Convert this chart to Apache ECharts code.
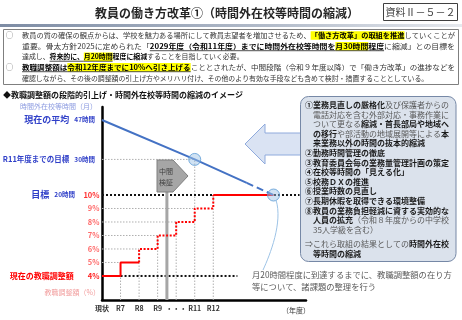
<!DOCTYPE html>
<html><head><meta charset="utf-8">
<script src="https://cdn.jsdelivr.net/npm/echarts@6/dist/echarts.min.js"></script>
<style>html,body{margin:0;padding:0;background:#fff}#c{width:462px;height:320px}</style>
</head><body><div id="c"></div>
<script>
const FONT = '"Noto Sans CJK JP", "Noto Sans", sans-serif';

// ---- data ----
const yearLabels = ['現状', 'R7', 'R8', 'R9', '・・・', 'R11', 'R12'];
const adjustmentRates = [4, 5, 6, 7, 8, 9, 10];          // 教職調整額 (%)
const enactedSteps = 2;                                   // 現状, R7 : decided (solid)
const hourLabels = ['現在の平均', 'R11年度までの目標', '目標'];
const hourValues = [47, 30, 20];                          // 時間外在校等時間（月）
const hourYearPos = [0, 5, 9.25];                         // year index where each level applies

// ---- layout constants ----
const PCT_MIN = 2.22, PCT_MAX = 16.52;
const H_MIN = 6.05, H_MAX = 54.5;
const BLUE_TXT = '#2f3fc8';

const chart = echarts.init(document.getElementById('c'), null, {renderer: 'canvas', width: 462, height: 320});

function ln(data, color, width, type, yIdx, z, step) {
  return {type: 'line', data: data, xAxisIndex: 0, yAxisIndex: yIdx || 0, symbol: 'none', silent: true,
    step: step || false, lineStyle: {color: color, width: width, type: type || 'solid'}, z: z || 2, animation: false};
}

const series = [];
const GUIDE = '#b0b0b0';
for (let i = 1; i <= 5; i++) series.push(ln([[0, adjustmentRates[i]], [i, adjustmentRates[i]]], GUIDE, 1, [1.5, 1.5], 0, 1));
for (let i = 1; i <= 6; i++) {
  if (i === hourYearPos[1]) continue;
  series.push(ln([[i, PCT_MIN], [i, adjustmentRates[i]]], GUIDE, 1, [1.5, 1.5], 0, 1));
}
series.push(ln([[hourYearPos[1], H_MIN], [hourYearPos[1], hourValues[1]]], GUIDE, 1, [1.5, 1.5], 1, 1));
series.push(ln([[0, hourValues[1]], [hourYearPos[1], hourValues[1]]], GUIDE, 1, [1.5, 1.5], 1, 1));
const last = adjustmentRates.length - 1;
series.push(ln([[0, adjustmentRates[last]], [10.65, adjustmentRates[last]]], '#111', 2, [2, 2], 0, 3));
series.push(ln([[1, adjustmentRates[0]], [7.3, adjustmentRates[0]]], '#111', 2, [2, 2], 0, 3));
const solidPts = [[0, adjustmentRates[0]], [1, adjustmentRates[1]], [enactedSteps, adjustmentRates[1]]];
series.push(ln(solidPts, '#ff0000', 2, 'solid', 0, 4, 'end'));
const dotPts = [[enactedSteps, adjustmentRates[1]]];
for (let i = 2; i < last; i++) dotPts.push([i + 1, adjustmentRates[i]]);
dotPts.push([last, adjustmentRates[last]]);
series.push(ln(dotPts, '#ff0000', 2, [2, 1.6], 0, 4, 'start'));
series.push(ln([[last, adjustmentRates[last]], [hourYearPos[2], adjustmentRates[last]]], '#ff0000', 2, 'solid', 0, 4));
series.push(ln([[3.5, PCT_MIN], [3.5, 10.37]], '#a6a6a6', 3, 'solid', 0, 3));
const t = 0.66;
const lg = Math.log10;
const splitX = hourYearPos[1] + (hourYearPos[2] - hourYearPos[1]) * t;
const splitH = Math.pow(10, lg(hourValues[1]) + (lg(hourValues[2]) - lg(hourValues[1])) * t);
series.push(ln([[hourYearPos[0], hourValues[0]], [hourYearPos[1], hourValues[1]], [splitX, splitH]], '#4472c4', 2, 'solid', 1, 5));
series.push(ln([[splitX, splitH], [hourYearPos[2], hourValues[2]]], '#4472c4', 2, [7, 4], 1, 5));
series.push({type: 'scatter', xAxisIndex: 0, yAxisIndex: 1, silent: true, animation: false, z: 6,
  data: [[hourYearPos[1], hourValues[1]], [hourYearPos[2], hourValues[2]]], symbolSize: 12,
  itemStyle: {color: 'rgba(157,195,230,0.6)', borderColor: '#5b9bd5', borderWidth: 1}});

// ---- graphic (slide frame / texts) ----
const els = [];
const ctx = document.createElement('canvas').getContext('2d');
function tw(t, size, bold) { ctx.font = (bold ? 'bold ' : 'normal ') + size + 'px ' + FONT; return ctx.measureText(t).width; }
function txt(t, x, y, size, fill, bold, align, z, sx) {
  els.push({type: 'text', z: z || 20, x: x, y: y, scaleX: sx || 1, silent: true,
    style: {text: t, fontSize: size, fontWeight: bold ? 'bold' : 'normal', fontFamily: FONT, fill: fill,
      align: align || 'left', verticalAlign: 'middle', textAlign: align || 'left', textVerticalAlign: 'middle'}});
}
function line(segs, x, y, size, col, bcol, z, right) {
  const ws = segs.map(s => tw(s.t, size, s.b));
  const total = ws.reduce((a, b) => a + b, 0);
  const k = right ? (right - x) / total : 1;
  let cx = x;
  segs.forEach((s, i) => {
    const w = ws[i] * k;
    if (s.h) els.push({type: 'rect', z: (z || 20) - 1, silent: true, shape: {x: cx, y: y - size * 0.62, width: w, height: size * 1.24}, style: {fill: '#ffff00'}});
    txt(s.t, cx, y, size, s.b ? bcol : col, s.b, 'left', z, k);
    if (s.u) els.push({type: 'line', z: z || 20, silent: true, shape: {x1: cx, y1: y + size * 0.64, x2: cx + w, y2: y + size * 0.64}, style: {stroke: '#000', lineWidth: 0.7}});
    cx += w;
  });
}

txt('教員の働き方改革①（時間外在校等時間の縮減）', 227, 13, 12, '#262626', true, 'center');
els.push({type: 'rect', silent: true, shape: {x: 383.5, y: 3.5, width: 74, height: 17}, style: {fill: 'none', stroke: '#404040', lineWidth: 1}});
txt('資料Ⅱ－５－２', 420.5, 12, 10, '#404040', false, 'center');
els.push({type: 'rect', silent: true, shape: {x: 0, y: 24, width: 462, height: 3},
  style: {fill: new echarts.graphic.LinearGradient(0, 0, 1, 0, [{offset: 0, color: '#7d8ca4'}, {offset: 0.6, color: '#b4bdcb'}, {offset: 1, color: '#e6e9ee'}])}});
els.push({type: 'rect', silent: true, shape: {x: 3.5, y: 29.5, width: 455, height: 55}, style: {fill: 'none', stroke: '#7f7f7f', lineWidth: 1}});
txt('○', 9.5, 35.5, 7.5, '#595959', false, 'center');
txt('○', 9.5, 67.3, 7.5, '#595959', false, 'center');
const FS = 6.9, TC = '#333', BC = '#000', JR = 455;
line([{t: '教員の質の確保の観点からは、学校を魅力ある場所にして教員志望者を増加させるため、'}, {t: '「働き方改革」の取組を推進', b: 1, h: 1}, {t: 'していくことが'}], 22, 35.5, FS, TC, BC, 20, JR);
line([{t: '重要。骨太方針2025に定められた「'}, {t: '2029年度（令和11年度）までに時間外在校等時間を', b: 1, u: 1}, {t: '月30時間', b: 1, u: 1, h: 1}, {t: '程度', b: 1, u: 1}, {t: 'に縮減」との目標を'}], 22, 46.3, FS, TC, BC, 20, JR);
line([{t: '達成し、'}, {t: '将来的に、', b: 1, u: 1}, {t: '月20時間', b: 1, u: 1, h: 1}, {t: '程度に縮減', b: 1}, {t: 'することを目指していく必要。'}], 22, 56.8, FS, TC, BC, 20);
line([{t: '教職調整額は', b: 1, u: 1}, {t: '令和12年度までに10%へ引き上げる', b: 1, u: 1, h: 1}, {t: 'こととされたが、中間段階（令和９年度以降）で「働き方改革」の進捗などを'}], 22, 67.3, FS, TC, BC, 20, JR);
line([{t: '確認しながら、その後の調整額の引上げ方やメリハリ付け、その他のより有効な手段なども含めて検討・措置することとしている。'}], 22, 78.2, FS, TC, BC, 20);
txt('◆教職調整額の段階的引上げ・時間外在校等時間の縮減のイメージ', 3, 95, 8, '#111', true, 'left');

els.push({type: 'polygon', silent: true, z: 15, shape: {points: [[245, 144], [265, 124], [265, 133], [303, 133], [303, 155], [265, 155], [265, 164]]},
  style: {fill: '#dae3f3', stroke: '#8faadc', lineWidth: 1}});
els.push({type: 'rect', silent: true, z: 16, shape: {x: 300.5, y: 96.5, width: 155.5, height: 165, r: 8}, style: {fill: '#dbe2ec', stroke: '#7688a6', lineWidth: 1}});
const BX = 305, BF = 8, BR = '#595959', BB = '#1a1a1a', IND = 8;
const boxLines = [
  [0, [{t: '①業務見直しの厳格化', b: 1}, {t: '及び保護者からの'}]],
  [IND, [{t: '電話対応を含む外部対応・事務作業に'}]],
  [IND, [{t: 'ついて更なる'}, {t: '縮減・首長部局や地域へ', b: 1}]],
  [IND, [{t: 'の移行', b: 1}, {t: 'や部活動の地域展開等による'}, {t: '本', b: 1}]],
  [IND, [{t: '来業務以外の時間の抜本的縮減', b: 1}]],
  [0, [{t: '②勤務時間管理の徹底', b: 1}]],
  [0, [{t: '③教育委員会毎の業務量管理計画の策定', b: 1}]],
  [0, [{t: '④在校等時間の「見える化」', b: 1}]],
  [0, [{t: '⑤校務ＤＸの推進', b: 1}]],
  [0, [{t: '⑥授業時数の見直し', b: 1}]],
  [0, [{t: '⑦長期休暇を取得できる環境整備', b: 1}]],
  [0, [{t: '⑧教員の業務負担軽減に資する実効的な', b: 1}]],
  [IND, [{t: '人員の拡充', b: 1}, {t: '（令和８年度からの中学校'}]],
  [IND, [{t: '35人学級を含む）'}]]
];
boxLines.forEach((l, i) => line(l[1], BX + l[0], 105 + i * 9.6, BF, BR, BB, 21));
line([{t: '⇒これら取組の結果としての'}, {t: '時間外在校', b: 1}], BX, 244, BF, BR, BB, 21);
line([{t: '等時間の縮減', b: 1}], BX + IND, 253.5, BF, BR, BB, 21);

els.push({type: 'polygon', silent: true, z: 12, shape: {points: [[157, 160], [173, 160], [188, 176], [173, 192], [157, 192]]},
  style: {fill: '#a6a6a6', stroke: '#7f7f7f', lineWidth: 1}});
txt('中間', 166, 171, 7, '#3f3f3f', false, 'center', 13);
txt('検証', 166, 182, 7, '#3f3f3f', false, 'center', 13);

els.push({type: 'bezierCurve', silent: true, z: 7, shape: {x1: 276, y1: 200, cpx1: 283, cpy1: 222, cpx2: 270, cpy2: 255, x2: 263, y2: 270},
  style: {stroke: '#9dc3e6', lineWidth: 1, fill: 'none'}});
txt('月20時間程度に到達するまでに、教職調整額の在り方', 252, 275, 8.3, '#595959', false, 'left');
txt('等について、諸課題の整理を行う', 252, 286.5, 8.3, '#595959', false, 'left');

const option = {
  animation: false,
  grid: {left: 102, right: 156, top: 107, bottom: 20, containLabel: false, outerBoundsMode: 'none'},
  xAxis: {
    type: 'value', min: 0, max: 11,
    axisLine: {show: true, onZero: false, lineStyle: {color: '#000', width: 2.5}},
    axisTick: {show: false}, splitLine: {show: false}, minorTick: {show: false},
    axisLabel: {customValues: [0, 1, 2, 3, 4, 5, 6], formatter: v => yearLabels[Math.round(v)], fontSize: 7, fontWeight: 'bold', color: '#333', margin: 5, fontFamily: FONT},
    name: '（年度）', nameLocation: 'end', nameGap: 4,
    nameTextStyle: {align: 'right', verticalAlign: 'top', padding: [7, 0, 0, 0], fontSize: 7, color: '#333', fontFamily: FONT}
  },
  yAxis: [{
    type: 'value', min: PCT_MIN, max: PCT_MAX, position: 'left',
    axisLine: {show: true, onZero: false, lineStyle: {color: '#000', width: 2.5}},
    axisTick: {show: false}, splitLine: {show: false},
    axisLabel: {
      customValues: adjustmentRates, margin: 2.5, fontFamily: FONT,
      formatter: v => {
        v = Math.round(v);
        if (v === adjustmentRates[0]) return '{m|現在の教職調整額}{s|}{p4|' + v + '%}';
        if (v === adjustmentRates[last]) return '{p10|' + v + '%}';
        return '{p|' + v + '%}';
      },
      rich: {
        p: {fontSize: 7.5, fontWeight: 'bold', color: '#ff6b6b', fontFamily: FONT},
        p10: {fontSize: 7.5, fontWeight: 'bold', color: '#ff3030', fontFamily: FONT},
        p4: {fontSize: 7.5, fontWeight: 'bold', color: '#ff2020', fontFamily: FONT},
        m: {fontSize: 8, fontWeight: 'bold', color: '#ff0000', fontFamily: FONT},
        s: {width: 14}
      }
    },
    name: '教職調整額（%）', nameLocation: 'start', nameGap: -8,
    nameTextStyle: {align: 'right', verticalAlign: 'middle', padding: [0, 2, 0, 0], color: '#f2a0a0', fontSize: 7, fontFamily: FONT}
  }, {
    type: 'log', logBase: 10, min: H_MIN, max: H_MAX, position: 'left', offset: 0,
    axisLine: {show: false}, axisTick: {show: false}, splitLine: {show: false}, minorTick: {show: false},
    axisLabel: {
      customValues: hourValues, margin: 7, fontFamily: FONT,
      formatter: v => {
        const i = hourValues.indexOf(Math.round(v));
        if (i < 0) return '';
        const big = i === 1 ? 'c' : 'a';
        return '{' + big + '|' + hourLabels[i] + '}{g|}{b|' + hourValues[i] + '時間}' + (i === 2 ? '{s|}' : '');
      },
      rich: {
        a: {fontSize: 9, fontWeight: 'bold', color: BLUE_TXT, fontFamily: FONT},
        c: {fontSize: 7.5, fontWeight: 'bold', color: BLUE_TXT, fontFamily: FONT},
        b: {fontSize: 6.5, fontWeight: 'bold', color: BLUE_TXT, fontFamily: FONT},
        g: {width: 5},
        s: {width: 20}
      }
    },
    name: '時間外在校等時間（月）', nameLocation: 'end', nameGap: 1,
    nameTextStyle: {align: 'right', verticalAlign: 'middle', padding: [0, 5, 0, 0], color: '#8c9be0', fontSize: 7, fontFamily: FONT}
  }],
  series: series,
  graphic: {elements: els}
};
chart.setOption(option);
</script></body></html>
